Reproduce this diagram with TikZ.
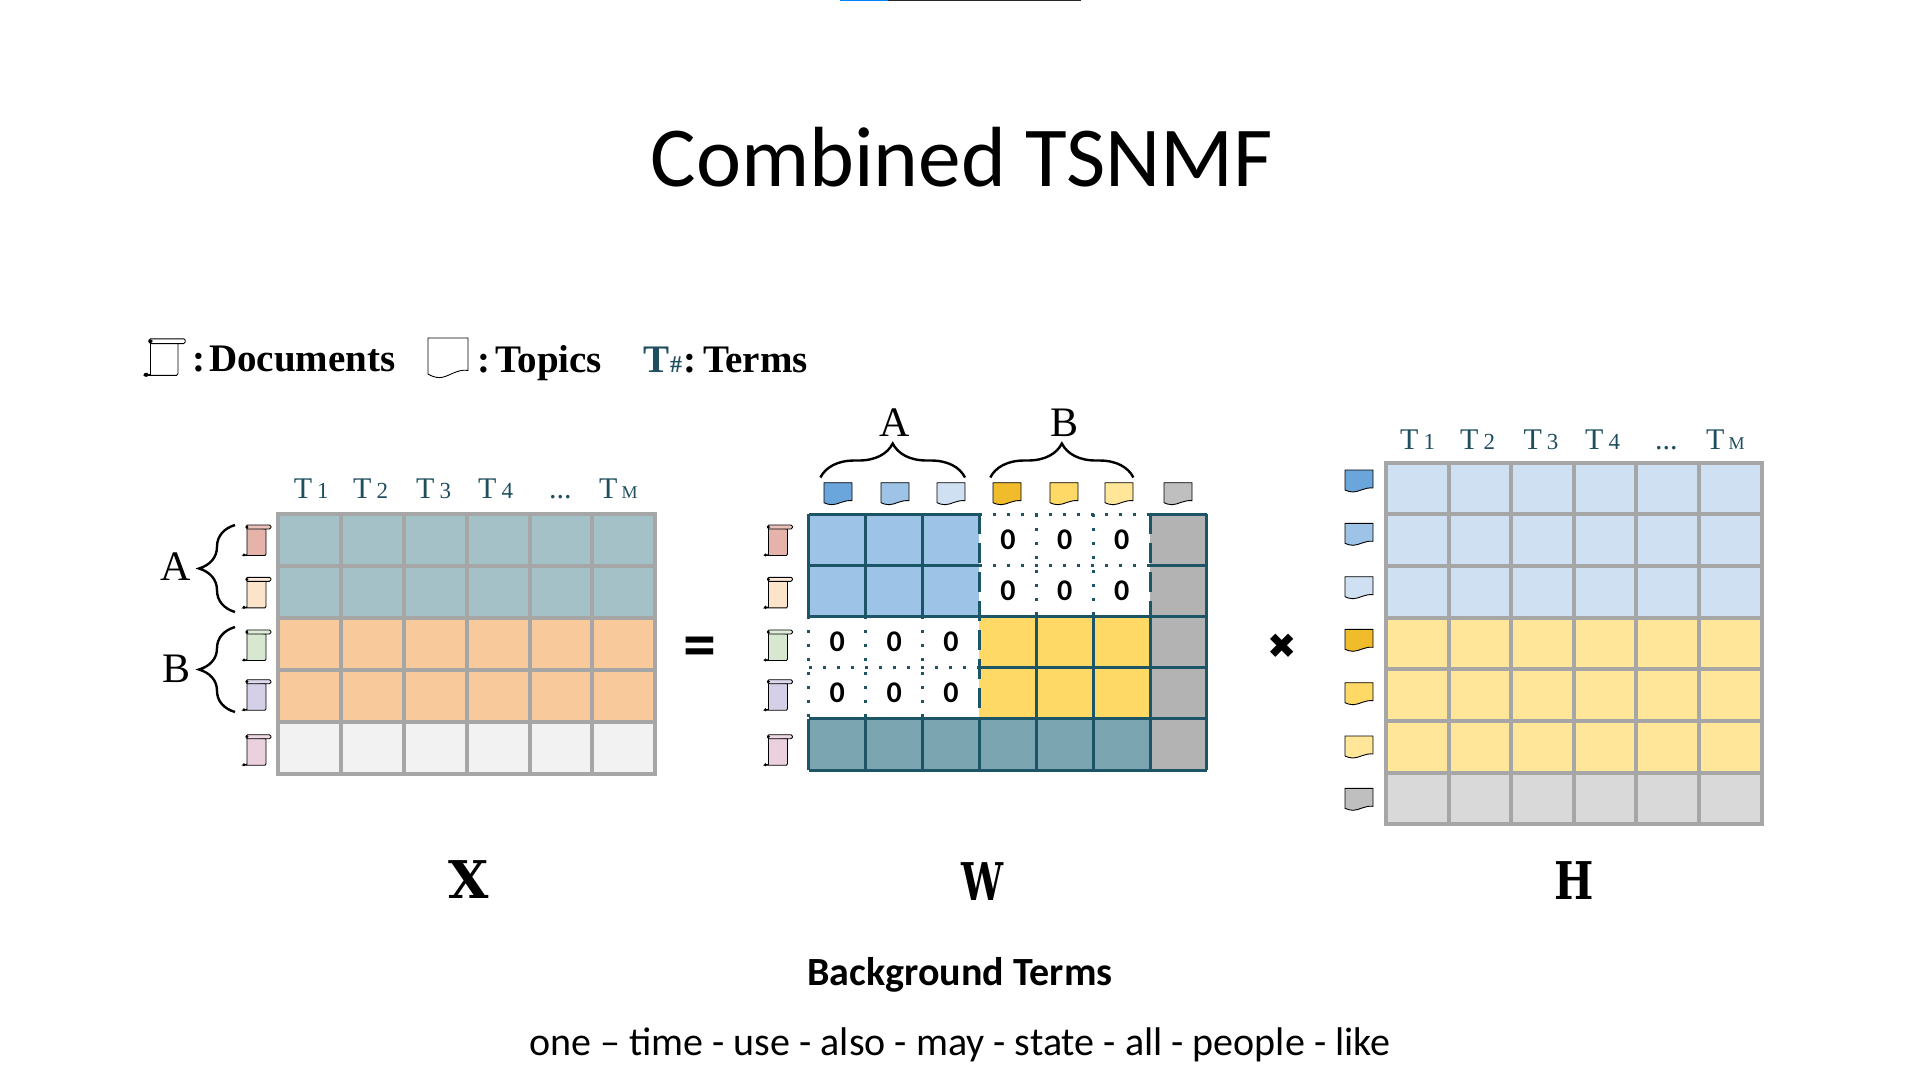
\documentclass[tikz,border=0pt]{standalone}
\usepackage{fontspec}
\usepackage{tikz}
\usetikzlibrary{decorations.pathreplacing}
\setmainfont{Liberation Serif}
\newfontfamily\slidefont{Carlito}
\newfontfamily\symbolfont{DejaVu Sans}
\newfontfamily\letterfont{DejaVu Serif}

\definecolor{GridGray}{HTML}{A6A6A6}
\definecolor{GridTeal}{HTML}{1B5566}
\definecolor{TermTeal}{HTML}{1F4E5F}
\definecolor{XTeal}{HTML}{A3C1C7}
\definecolor{XOrange}{HTML}{F8C99B}
\definecolor{XLight}{HTML}{F2F2F2}
\definecolor{WBlue}{HTML}{9DC3E6}
\definecolor{WYellow}{HTML}{FFD966}
\definecolor{WTeal}{HTML}{7BA5B1}
\definecolor{WGray}{HTML}{B3B3B3}
\definecolor{HBlue}{HTML}{CFE0F2}
\definecolor{HYellow}{HTML}{FFE699}
\definecolor{HGray}{HTML}{D9D9D9}
\definecolor{DocRed}{HTML}{E6B3AA}
\definecolor{DocCream}{HTML}{FCE4CA}
\definecolor{DocGreen}{HTML}{D8E8D0}
\definecolor{DocPurple}{HTML}{D6CFE8}
\definecolor{DocPink}{HTML}{EBD0DE}
\definecolor{TopicBlueA}{HTML}{6AA5DC}
\definecolor{TopicYellowA}{HTML}{F0BC2C}
\definecolor{TopicGray}{HTML}{BFBFBF}

\newcommand{\termlabel}[1]{T\hspace{5pt}{\fontsize{23}{23}\selectfont #1}}

\tikzset{
	pics/DocIcon/.style={code={
		\draw[fill=#1, line width=0.9pt] (1,1) -- (1,28.5) -- (-2,29.5) -- (19,29.5) -- (20,28) -- (20,3) -- cycle;
		\draw[fill=#1!80!white, line width=0.9pt, rounded corners=1.5pt] (0,-1) rectangle (25,3);
		\fill (-2,29) circle (1.7pt);
		\fill (1,1) circle (1.5pt);
	}},
	pics/TopicIcon/.style={code={
		\draw[fill=#1, line width=0.9pt] (0,0) -- (28,0) -- (28,18) .. controls (20,17) and (14,22) .. (8,22) .. controls (5,22) and (2,21) .. (0,20) -- cycle;
	}}
}

\begin{document}
\begin{tikzpicture}[x=1pt,y=-1pt]
	\tikzstyle{Title}	= [font=\slidefont\fontsize{85.4}{86}\selectfont, anchor=base]
	\tikzstyle{Caption}	= [font=\slidefont\fontsize{40}{40}\selectfont, anchor=base]
	\tikzstyle{Legend}	= [font=\bfseries\fontsize{39}{39}\selectfont, anchor=base west, inner sep=0pt]
	\tikzstyle{Group}	= [font=\fontsize{42}{42}\selectfont, anchor=base, inner sep=0pt]
	\tikzstyle{Term}	= [font=\fontsize{30}{30}\selectfont, text=TermTeal, anchor=base west, inner sep=0pt]
	\tikzstyle{Big}		= [font=\letterfont\bfseries\fontsize{52}{52}\selectfont, anchor=base, inner sep=0pt]
	\tikzstyle{XCell}	= [rectangle, draw=GridGray, line width=4pt, minimum width=62.8pt, minimum height=52pt, inner sep=0pt, outer sep=0pt, anchor=north west]
	\tikzstyle{HCell}	= [XCell, minimum width=62.6pt, minimum height=51.67pt]
	\tikzstyle{WCell}	= [rectangle, minimum width=56.86pt, minimum height=51.2pt, inner sep=0pt, outer sep=0pt, anchor=north west, font=\slidefont\bfseries\fontsize{30}{30}\selectfont]
	\tikzstyle{SolidLine}	= [draw=GridTeal, line width=3pt]
	\tikzstyle{ZeroLine}	= [draw=GridTeal, line width=3pt, dash pattern=on 3pt off 11pt]
	\tikzstyle{EdgeLine}	= [draw=GridTeal, line width=3pt, dash pattern=on 20pt off 9pt]
	\tikzstyle{Curly}	= [draw=black, line width=2.4pt, decorate]

	\useasboundingbox (0,0) rectangle (1920,1080);

	% bar at the top edge
	\fill[blue!50!cyan] (840,0) rectangle (888,1.4);
	\fill[black!85] (888,0) rectangle (1081,1.4);

	\node (title) at (962,186) [Title] {Combined TSNMF};
	\node (bgtitle) at (960,985.5) [Caption] {\bfseries Background Terms};
	\node (bgterms) at (960,1055.5) [Caption] {one – time - use - also - may - state - all - people - like};

	% legend
	\pic[xscale=1.45,yscale=1.2] (legenddoc) at (149,340) {DocIcon=white};
	\node (legendA) at (192,371) [Legend] {:\hspace{4pt}Documents};
	\pic[xscale=1.43,yscale=1.8] (legendtopic) at (428,338) {TopicIcon=white};
	\node (legendB) at (477,372) [Legend] {:\hspace{5pt}Topics};
	\node (legendC) at (643,372) [Legend] {\textcolor{TermTeal}{T\hspace{1pt}{\fontsize{24}{24}\selectfont\#}}\hspace{1pt}:\hspace{7pt}Terms};

	% matrix X
	\foreach \r/\col in {1/XTeal,2/XTeal,3/XOrange,4/XOrange,5/XLight}
		\foreach \c in {1,...,6}
			\node (X-\r-\c) at ({278.4+62.8*(\c-1)},{514+52*(\r-1)}) [XCell, fill=\col] {};
	\foreach \r/\top/\col in {1/526/DocRed,2/578.3/DocCream,3/631/DocGreen,4/680.7/DocPurple,5/735.7/DocPink} {
		\pic (xdoc\r) at (246,\top) {DocIcon=\col};
		\pic (wdoc\r) at (767.5,\top) {DocIcon=\col};
	}
	\foreach \c/\pos/\txt in {1/293.6/\oldstylenums{1},2/353/\oldstylenums{2},3/416/\oldstylenums{3},4/478/\oldstylenums{4}}
		\node (xterm\c) at (\pos,498) [Term] {\termlabel{\txt}};
	\node (xdots) at (549,498) [Term] {...};
	\node (xtermM) at (599,498) [Term] {T\hspace{4pt}{\fontsize{18}{18}\selectfont M}};
	\coordinate (braceAa) at (235,612);
	\coordinate (braceAb) at (235,525);
	\coordinate (braceBa) at (235,712);
	\coordinate (braceBb) at (235,627);
	\draw[Curly, decoration={brace, amplitude=36pt}] (braceAa) -- (braceAb);
	\draw[Curly, decoration={brace, amplitude=36pt}] (braceBa) -- (braceBb);
	\node (labelA) at (176,580) [Group] {A};
	\node (labelB) at (177,682) [Group] {B};
	\node (eq) at (700,662) [font=\symbolfont\bfseries\fontsize{44}{44}\selectfont, anchor=base, inner sep=0pt, yscale=1.2] {=};

	% matrix W
	\foreach \r/\c/\col in {1/1/WBlue,1/2/WBlue,1/3/WBlue,2/1/WBlue,2/2/WBlue,2/3/WBlue,
			3/4/WYellow,3/5/WYellow,3/6/WYellow,4/4/WYellow,4/5/WYellow,4/6/WYellow,
			5/1/WTeal,5/2/WTeal,5/3/WTeal,5/4/WTeal,5/5/WTeal,5/6/WTeal,
			1/7/WGray,2/7/WGray,3/7/WGray,4/7/WGray,5/7/WGray}
		\node (W-\r-\c) at ({808.9+56.86*(\c-1)},{514+51.2*(\r-1)}) [WCell, fill=\col] {};
	\foreach \r/\c in {1/4,1/5,1/6,2/4,2/5,2/6,3/1,3/2,3/3,4/1,4/2,4/3}
		\node (W-\r-\c) at ({808.9+56.86*(\c-1)},{514+51.2*(\r-1)}) [WCell] {0};
	\foreach \from/\to/\kind in {
			W-1-1.north west/W-1-3.north east/SolidLine, W-1-4.north west/W-1-6.north east/ZeroLine, W-1-7.north west/W-1-7.north east/SolidLine,
			W-2-1.north west/W-2-3.north east/SolidLine, W-2-4.north west/W-2-6.north east/ZeroLine, W-2-7.north west/W-2-7.north east/SolidLine,
			W-3-1.north west/W-3-7.north east/SolidLine,
			W-4-1.north west/W-4-3.north east/ZeroLine, W-4-4.north west/W-4-7.north east/SolidLine,
			W-5-1.north west/W-5-7.north east/SolidLine,
			W-5-1.south west/W-5-7.south east/SolidLine,
			W-1-1.north west/W-2-1.south west/SolidLine, W-3-1.north west/W-4-1.south west/ZeroLine, W-5-1.north west/W-5-1.south west/SolidLine,
			W-1-2.north west/W-2-2.south west/SolidLine, W-3-2.north west/W-4-2.south west/ZeroLine, W-5-2.north west/W-5-2.south west/SolidLine,
			W-1-3.north west/W-2-3.south west/SolidLine, W-3-3.north west/W-4-3.south west/ZeroLine, W-5-3.north west/W-5-3.south west/SolidLine,
			W-1-4.north west/W-4-4.south west/EdgeLine, W-5-4.north west/W-5-4.south west/SolidLine,
			W-1-5.north west/W-2-5.south west/ZeroLine, W-3-5.north west/W-5-5.south west/SolidLine,
			W-1-6.north west/W-2-6.south west/ZeroLine, W-3-6.north west/W-5-6.south west/SolidLine,
			W-1-7.north west/W-2-7.south west/EdgeLine, W-3-7.north west/W-5-7.south west/SolidLine,
			W-1-7.north east/W-5-7.south east/SolidLine}
		\draw[\kind] (\from) -- (\to);
	\foreach \i/\pos/\col in {1/824/TopicBlueA,2/881/WBlue,3/937/HBlue,4/993/TopicYellowA,5/1050/WYellow,6/1105/HYellow,7/1164/TopicGray}
		\pic (wtopic\i) at (\pos,482.7) {TopicIcon=\col};
	\coordinate (topA) at (820.4,477.5);
	\coordinate (topAend) at (965,477.5);
	\coordinate (topB) at (990.3,477.5);
	\coordinate (topBend) at (1133.4,477.5);
	\draw[Curly, decoration={brace, amplitude=34pt}] (topA) -- (topAend);
	\draw[Curly, decoration={brace, amplitude=34pt}] (topB) -- (topBend);
	\node (labelWA) at (895,436) [Group] {A};
	\node (labelWB) at (1064,436) [Group] {B};
	\node (times) at (1282,646) [font=\symbolfont\fontsize{35}{35}\selectfont, inner sep=0pt] {✖};

	% matrix H
	\foreach \r/\col in {1/HBlue,2/HBlue,3/HBlue,4/HYellow,5/HYellow,6/HYellow,7/HGray}
		\foreach \c in {1,...,6}
			\node (H-\r-\c) at ({1386+62.6*(\c-1)},{462.7+51.67*(\r-1)}) [HCell, fill=\col] {};
	\foreach \i/\top/\col in {1/470/TopicBlueA,2/523.3/WBlue,3/576.7/HBlue,4/629.3/TopicYellowA,5/682.7/WYellow,6/736/HYellow,7/788.3/TopicGray}
		\pic (htopic\i) at (1345,\top) {TopicIcon=\col};
	\foreach \c/\pos/\txt in {1/1400/\oldstylenums{1},2/1460/\oldstylenums{2},3/1523.3/\oldstylenums{3},4/1585/\oldstylenums{4}}
		\node (hterm\c) at (\pos,449.3) [Term] {\termlabel{\txt}};
	\node (hdots) at (1655,449.3) [Term] {...};
	\node (htermM) at (1706,449.3) [Term] {T\hspace{4pt}{\fontsize{18}{18}\selectfont M}};

	\node (nameX) at (469,898) [Big] {X};
	\node (nameW) at (983,900) [Big, xscale=0.72] {W};
	\node (nameH) at (1574,899) [Big, xscale=0.8] {H};
\end{tikzpicture}
\end{document}
